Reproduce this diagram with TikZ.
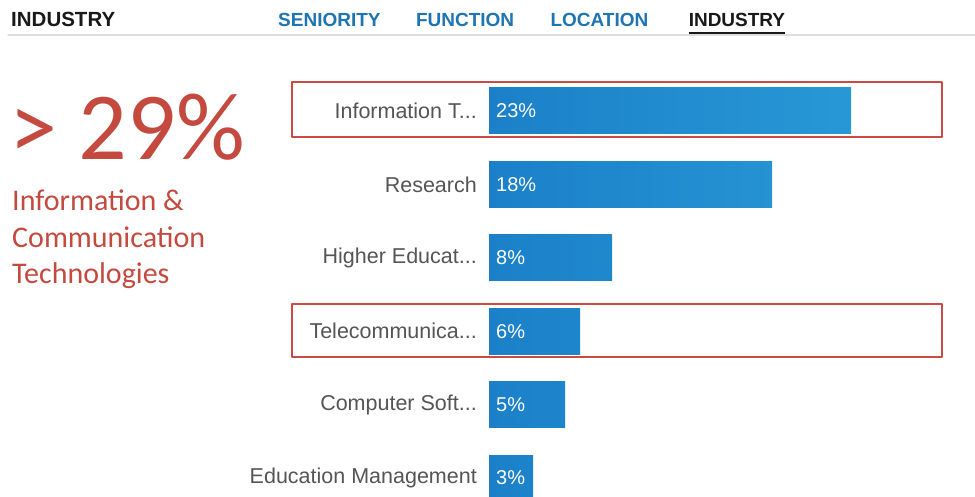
\documentclass[tikz,border=0pt]{standalone}
\usepackage{fontspec}
\setmainfont{Liberation Sans}
\newfontfamily\calibri{Carlito}
\newfontfamily\calibrilig[Ligatures=Rare]{Carlito}
\usepackage{tikz}
\usetikzlibrary{positioning}
\definecolor{tabblue}{RGB}{30,117,178}
\definecolor{barblue}{RGB}{27,128,200}
\definecolor{barlight}{RGB}{44,160,218}
\definecolor{hlred}{RGB}{204,74,68}
\definecolor{txtred}{RGB}{196,74,64}
\definecolor{lblgray}{RGB}{85,85,85}
\newcommand{\tdots}{...}

\begin{document}
\begin{tikzpicture}[line cap=round,line join=round,x=1pt,y=-1pt,
  tab/.style={font=\fontsize{19}{21}\selectfont\bfseries,inner sep=0pt,text=tabblue},
  bar/.style={draw=none,minimum height=46pt,inner sep=0pt,anchor=west},
  pct/.style={font=\fontsize{20}{22}\selectfont,text=white,inner sep=0pt,anchor=west},
  lbl/.style={font=\fontsize{21.5}{24}\selectfont,text=lblgray,inner sep=0pt},
  hlbox/.style={draw=hlred,line width=2pt,line cap=butt}]
\clip (0,0) rectangle (975,497);
\fill[white] (0,0) rectangle (975,497);
\node[tab,text=black!90,font=\fontsize{20.5}{22}\selectfont\bfseries,anchor=base west] (thead) at (11,27) {INDUSTRY};
\node[tab,anchor=base west] (tsen) at (278,27) {SENIORITY};
\node[tab,base right=35pt of tsen] (tfun) {FUNCTION};
\node[tab,base right=36pt of tfun] (tloc) {LOCATION};
\node[tab,text=black!90,base right=40pt of tloc] (tind) {INDUSTRY};
\draw[black!13,line width=1.2pt] (8,35) -- (975,35);
\draw[black!90,line width=2.6pt,line cap=butt] ([yshift=-6pt]tind.base west) -- ([yshift=-6pt]tind.base east);
\node[anchor=base west,inner sep=0pt,text=txtred,font=\calibri\fontsize{96}{96}\selectfont] (big) at (9,160) {> 29\%};
\node[anchor=north west,inner sep=0pt,align=left,text=txtred,font=\calibri\fontsize{30}{36.5}\selectfont] (sub) at (12,190) {{\calibrilig Information \&}\\{\calibrilig Communication}\\Technologies};
\foreach \n/\name/\p/\w [evaluate=\w as \k using {int(\w/362*75)}] in {1/Information T\tdots/23/362,2/Research/18/283,3/Higher Educat\tdots/8/123,4/Telecommunica\tdots/6/91,5/Computer Soft\tdots/5/76,6/Education Management/3/44}
{\node[bar,left color=barblue,right color=barlight!\k!barblue,minimum width=\w pt] (bar\n) at (489,{111+73.4*(\n-1)}) {};
\node[pct] (pct\n) at ([xshift=7pt]bar\n.west) {\p\%};
\node[lbl,left=12pt of bar\n] (lab\n) {\name};}
\draw[hlbox] (292,82) rectangle (942,137);
\draw[hlbox] (292,304) rectangle (942,357);
\end{tikzpicture}
\end{document}
